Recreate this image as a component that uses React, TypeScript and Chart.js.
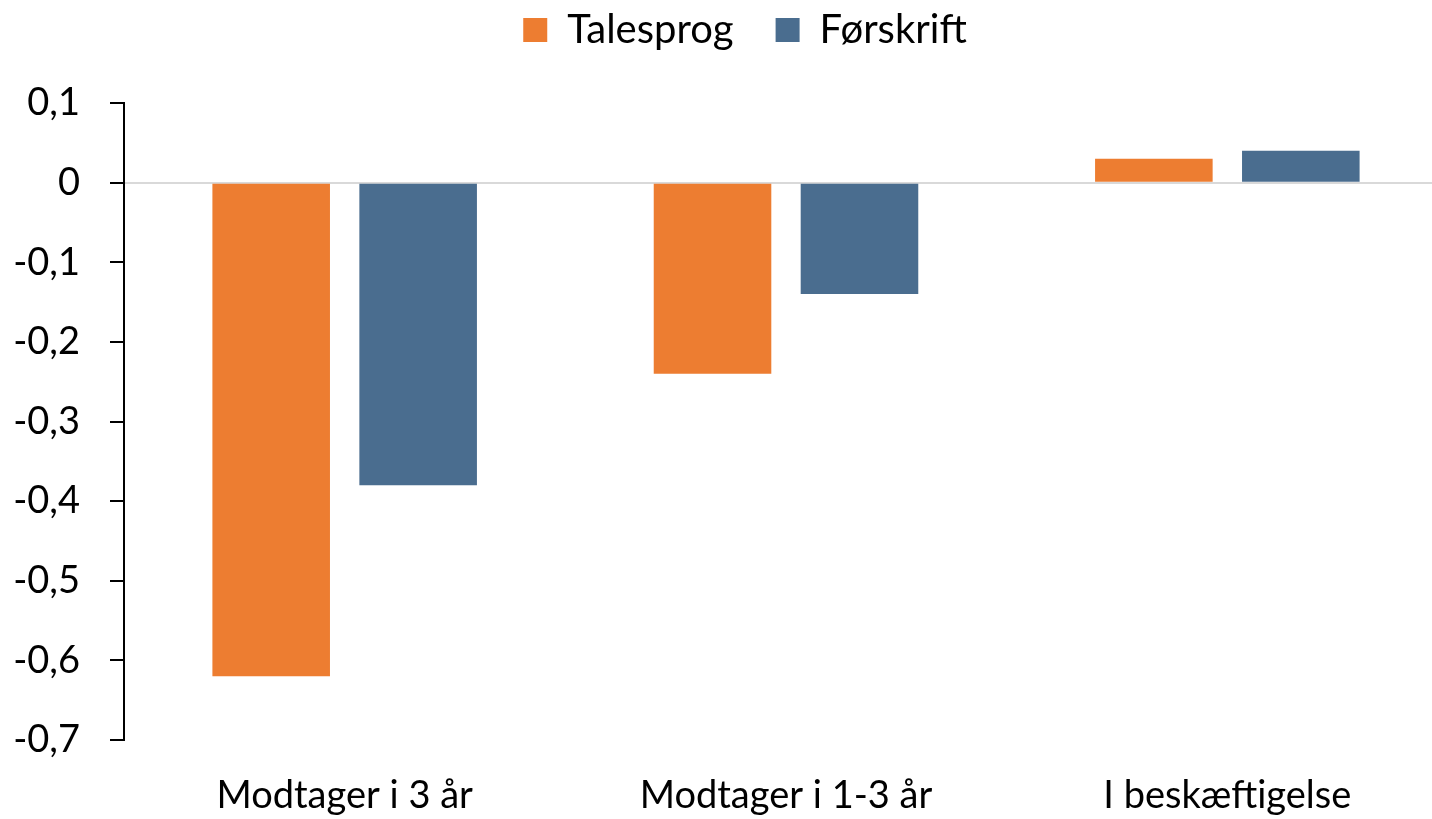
import React, { useEffect, useRef } from "react";
import { Chart, registerables } from "chart.js";

Chart.register(...registerables);

const categories = ["Modtager i 3 år", "Modtager i 1-3 år", "I beskæftigelse"];
const talesprog = [-0.62, -0.24, 0.03];
const forskrift = [-0.38, -0.14, 0.04];
const seriesNames = ["Talesprog", "Førskrift"];
const seriesColors = ["#ED7D31", "#4A6D8F"];
const yTicks = [0.1, 0, -0.1, -0.2, -0.3, -0.4, -0.5, -0.6, -0.7];

const FONT = "Lato, 'Open Sans', sans-serif";

const legendPlugin = {
  id: "legendAdjust",
  beforeLayout(chart: any) {
    const lg = chart.legend;
    if (lg && !lg.__patched) {
      const orig = lg.fit.bind(lg);
      lg.fit = function () {
        orig();
        this.height = 135;
      };
      lg.__patched = true;
    }
  },
  afterUpdate(chart: any) {
    const lg = chart.legend;
    if (lg) lg.left += 42;
  },
};

export default function App() {
  const ref = useRef<HTMLCanvasElement>(null);
  useEffect(() => {
    if (!ref.current) return;
    const chart = new Chart(ref.current, {
      type: "bar",
      data: {
        labels: categories,
        datasets: [
          {
            label: seriesNames[0],
            data: talesprog,
            backgroundColor: seriesColors[0],
            categoryPercentage: 0.666,
            barPercentage: 0.8,
          },
          {
            label: seriesNames[1],
            data: forskrift,
            backgroundColor: seriesColors[1],
            categoryPercentage: 0.666,
            barPercentage: 0.8,
          },
        ],
      },
      options: {
        responsive: false,
        animation: false,
        layout: { padding: { left: 0, right: 0, top: -32, bottom: 0 } },
        plugins: {
          legend: {
            position: "top",
            labels: {
              boxWidth: 24,
              boxHeight: 24,
              padding: 42,
              color: "#000",
              font: { family: FONT, size: 40 },
            },
          },
          tooltip: { enabled: false },
        },
        scales: {
          x: {
            afterFit: (scale: any) => {
              scale.height = 79;
            },
            grid: { display: false, drawTicks: false },
            border: { display: false },
            ticks: {
              color: "#000",
              font: { family: FONT, size: 38 },
              padding: 33,
              maxRotation: 0,
            },
          },
          y: {
            min: -0.7,
            max: 0.1,
            afterFit: (scale: any) => {
              scale.width = 124;
            },
            afterBuildTicks: (scale: any) => {
              scale.ticks = yTicks.map((v) => ({ value: v }));
            },
            border: { display: true, color: "#000", width: 2 },
            grid: {
              color: (ctx: any) =>
                ctx.tick && Math.abs(ctx.tick.value) < 1e-9 ? "#d9d9d9" : "rgba(0,0,0,0)",
              tickColor: "#000",
              tickLength: 14,
              lineWidth: 2,
            },
            ticks: {
              color: "#000",
              padding: 30,
              font: { family: FONT, size: 38 },
              callback: (v: any) => {
                const n = Math.round(Number(v) * 10) / 10;
                if (n === 0) return "0";
                return n.toFixed(1).replace(".", ",");
              },
            },
          },
        },
      },
      plugins: [legendPlugin],
    });
    return () => chart.destroy();
  }, []);
  return (
    <div
      style={{
        position: "fixed",
        left: 0,
        top: 0,
        width: 1432,
        height: 819,
        overflow: "hidden",
        background: "#fff",
      }}
    >
      <canvas ref={ref} width={1448} height={819} style={{ display: "block" }} />
    </div>
  );
}
